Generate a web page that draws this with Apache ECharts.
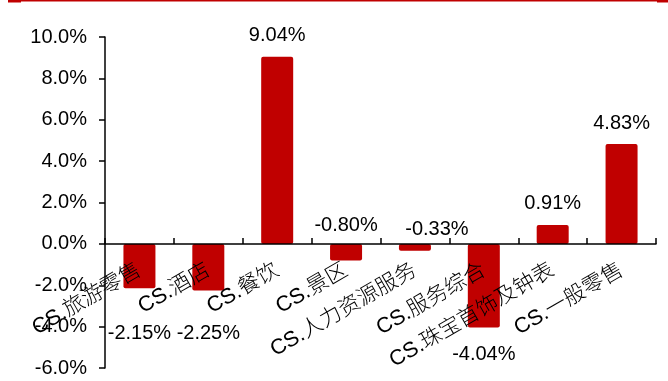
<!DOCTYPE html>
<html><head><meta charset="utf-8">
<script src="https://cdn.jsdelivr.net/npm/echarts@6/dist/echarts.min.js"></script>
<style>html,body{margin:0;padding:0;background:#fff}#c{width:668px;height:381px}</style>
</head><body><div id="c"></div>
<script>
var categories = ['CS.旅游零售','CS.酒店','CS.餐饮','CS.景区','CS.人力资源服务','CS.服务综合','CS.珠宝首饰及钟表','CS.一般零售'];
var values = [-2.15, -2.25, 9.04, -0.80, -0.33, -4.04, 0.91, 4.83];
var yTicks = [-6, -4, -2, 0, 2, 4, 6, 8, 10];

var labelCfg = [
  {position:'bottom', distance:5, offset:[0,30]},
  {position:'bottom', distance:5, offset:[0,28]},
  {position:'top', distance:11, offset:[0,0]},
  {position:'top', distance:8, offset:[0,0]},
  {position:'top', distance:4, offset:[22,0]},
  {position:'bottom', distance:17, offset:[0,0]},
  {position:'top', distance:12, offset:[0,0]},
  {position:'top', distance:10, offset:[0,0]}
];

var chart = echarts.init(document.getElementById('c'));
var font = '"Liberation Sans", Arial, "Noto Sans CJK SC", sans-serif';
var gridTop = 37, gridBottom = 13, H = 381;
var plotH = H - gridTop - gridBottom;
var ymin = yTicks[0], ymax = yTicks[yTicks.length-1];
var zeroFromBottom = plotH * (0 - ymin) / (ymax - ymin);
chart.setOption({
  animation:false,
  grid:{left:105, right:12, top:gridTop, bottom:gridBottom, containLabel:false, outerBoundsMode:'none'},
  graphic:[
    {type:'rect', shape:{x:21,y:0,width:636,height:1.5}, style:{fill:'#C00000'}},
    {type:'rect', shape:{x:8,y:0,width:13,height:2.5}, style:{fill:'#C00000'}},
    {type:'rect', shape:{x:657,y:0,width:11,height:2.5}, style:{fill:'#C00000'}}
  ],
  xAxis:{
    type:'category', data:categories, offset:-zeroFromBottom, z:5,
    axisLine:{onZero:false, lineStyle:{color:'#000', width:1.5}},
    axisTick:{show:true, inside:true, length:6, lineStyle:{color:'#000', width:1.5}},
    axisLabel:{rotate:30, margin:25, color:'#000', fontSize:21.5, fontWeight:300, fontFamily:font, interval:0, hideOverlap:false}
  },
  yAxis:{
    type:'value', min:ymin, max:ymax, interval:2,
    splitLine:{show:false},
    axisLine:{show:true, lineStyle:{color:'#000', width:1.5}},
    axisTick:{show:true, length:6, lineStyle:{color:'#000', width:1.5}},
    axisLabel:{margin:18, color:'#000', fontSize:20, fontFamily:font,
      formatter:function(v){return v.toFixed(1)+'%';}}
  },
  series:[{
    type:'bar', barWidth:32, z:2,
    itemStyle:{color:'#C00000', borderRadius:2},
    data: values.map(function(v,i){
      return {value:v, label:{show:true, position:labelCfg[i].position, distance:labelCfg[i].distance,
        offset:labelCfg[i].offset, color:'#000', fontSize:20, fontFamily:font,
        formatter:function(p){return p.value.toFixed(2)+'%';}}};
    })
  }]
});
</script></body></html>
